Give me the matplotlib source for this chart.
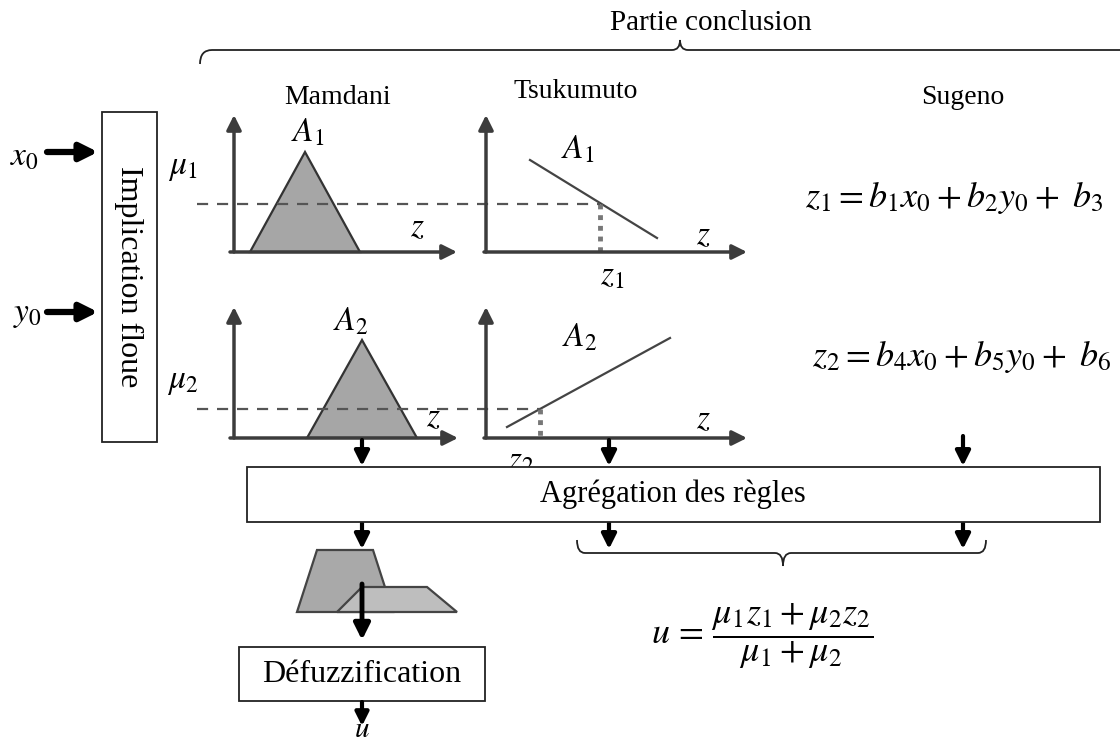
import matplotlib.pyplot as plt
from matplotlib.patches import Polygon, Rectangle, PathPatch
from matplotlib.path import Path

plt.rcParams['font.family'] = ['Liberation Serif', 'DejaVu Serif']
plt.rcParams['mathtext.fontset'] = 'stix'

# formes (coordonnees en pixels de l'image)
tri_mamdani_1 = [(250, 252), (305, 152), (360, 252)]
tri_mamdani_2 = [(307, 438), (362, 340), (417, 438)]
ligne_tsuku_1 = [(530, 657), (160, 238)]
ligne_tsuku_2 = [(507, 670), (427, 338)]
trap_agreg_1 = [(297, 612), (317, 550), (373, 550), (393, 612)]
trap_agreg_2 = [(337, 612), (362, 587), (427, 587), (457, 612)]

titres = ["Mamdani", "Tsukumuto", "Sugeno"]
eq_sugeno = [r"$z_1 = b_1x_0 + b_2y_0 +\ b_3$", r"$z_2 = b_4x_0 + b_5y_0 +\ b_6$"]
formule_u = r"$u\,=\,\dfrac{\mu_1 z_1 + \mu_2 z_2}{\mu_1 + \mu_2}$"

fig = plt.figure(figsize=(11.2, 7.43), dpi=100)
ax = fig.add_axes([0, 0, 1, 1])
ax.set_xlim(0, 1120)
ax.set_ylim(743, 0)
ax.axis("off")

gris = "#3c3c3c"
fs_math = 24


def fleche(x0, y0, x1, y1, lw=2.5, c=gris, ms=20):
    ax.annotate("", xy=(x1, y1), xytext=(x0, y0),
                arrowprops=dict(arrowstyle="-|>", lw=lw, color=c,
                                mutation_scale=ms, shrinkA=0, shrinkB=0))


# accolade du haut
verts = [(200, 64), (200, 50), (212, 50), (672, 50), (680, 50), (680, 40),
         (680, 50), (688, 50), (1120, 50)]
codes = [Path.MOVETO, Path.CURVE3, Path.CURVE3, Path.LINETO, Path.CURVE3, Path.CURVE3,
         Path.CURVE3, Path.CURVE3, Path.LINETO]
ax.add_patch(PathPatch(Path(verts, codes), fc="none", ec="#222", lw=1.3))
ax.text(711, 23, "Partie conclusion", fontsize=21, ha="center", va="center")

ax.text(338, 98, titres[0], fontsize=20, ha="center", va="center")
ax.text(576, 92, titres[1], fontsize=20, ha="center", va="center")
ax.text(963, 98, titres[2], fontsize=20, ha="center", va="center")

# entrees
ax.text(24, 157, r"$x_0$", fontsize=fs_math, ha="center", va="center")
ax.text(27, 315, r"$y_0$", fontsize=fs_math, ha="center", va="center")
fleche(47, 152, 98, 152, lw=4.5, c="black", ms=26)
fleche(47, 312, 98, 312, lw=4.5, c="black", ms=26)
ax.add_patch(Rectangle((102, 112), 55, 330, fc="white", ec="#222", lw=1.3))
ax.text(129, 277, "Implication floue", fontsize=23, rotation=270,
        ha="center", va="center")

# Mamdani
for tri, yb, yh, xf in [(tri_mamdani_1, 252, 115, 457), (tri_mamdani_2, 438, 307, 458)]:
    ax.add_patch(Polygon(tri, closed=True, fc="#a6a6a6", ec="#333", lw=1.6, zorder=2))
    fleche(234, yb, 234, yh, ms=22)
    fleche(230, yb, xf, yb, ms=22)

ax.text(308, 133, r"$A_1$", fontsize=fs_math, ha="center", va="center")
ax.text(351, 322, r"$A_2$", fontsize=fs_math, ha="center", va="center")
ax.text(183, 168, r"$\mu_1$", fontsize=fs_math, ha="center", va="center")
ax.text(183, 382, r"$\mu_2$", fontsize=fs_math, ha="center", va="center")
ax.text(417, 228, r"$z$", fontsize=fs_math, ha="center", va="center")
ax.text(433, 418, r"$z$", fontsize=fs_math, ha="center", va="center")

# niveaux d'activation
ax.plot([197, 600], [204, 204], ls=(0, (5, 4)), color="#555", lw=1.6, zorder=3)
ax.plot([197, 540], [409, 409], ls=(0, (5, 4)), color="#555", lw=1.6, zorder=3)

# Tsukumoto
for yb, yh in [(252, 115), (438, 307)]:
    fleche(486, yb, 486, yh, ms=22)
    fleche(484, yb, 747, yb, ms=22)
ax.plot(ligne_tsuku_1[0], ligne_tsuku_1[1], color="#444", lw=1.6)
ax.plot(ligne_tsuku_2[0], ligne_tsuku_2[1], color="#444", lw=1.6)
ax.plot([600, 600], [204, 252], ls=(0, (1, 1.2)), color="#777", lw=3.5)
ax.plot([540, 540], [409, 438], ls=(0, (1, 1.2)), color="#777", lw=3.5)
ax.text(578, 150, r"$A_1$", fontsize=fs_math, ha="center", va="center")
ax.text(580, 338, r"$A_2$", fontsize=fs_math, ha="center", va="center")
ax.text(703, 236, r"$z$", fontsize=fs_math, ha="center", va="center")
ax.text(703, 420, r"$z$", fontsize=fs_math, ha="center", va="center")
ax.text(612, 276, r"$z_1$", fontsize=fs_math, ha="center", va="center")
ax.text(521, 461, r"$z_2$", fontsize=fs_math, ha="center", va="center", zorder=1)

# Sugeno
ax.text(954, 198, eq_sugeno[0], fontsize=26, ha="center", va="center")
ax.text(962, 357, eq_sugeno[1], fontsize=26, ha="center", va="center")

# agregation
for x, y0 in [(362, 440), (609, 440), (963, 436)]:
    fleche(x, y0, x, 466, lw=3, c="black", ms=22)
ax.add_patch(Rectangle((247, 467), 853, 55, fc="white", ec="#222", lw=1.3, zorder=5))
ax.text(673, 494, "Agrégation des règles", fontsize=22, ha="center", va="center", zorder=6)
for x in [362, 609, 963]:
    fleche(x, 523, x, 549, lw=3, c="black", ms=22)

# accolade du bas
verts = [(577, 540), (577, 553), (585, 553), (775, 553), (783, 553), (783, 566),
         (783, 553), (791, 553), (978, 553), (986, 553), (986, 540)]
codes = [Path.MOVETO, Path.CURVE3, Path.CURVE3, Path.LINETO, Path.CURVE3, Path.CURVE3,
         Path.CURVE3, Path.CURVE3, Path.LINETO, Path.CURVE3, Path.CURVE3]
ax.add_patch(PathPatch(Path(verts, codes), fc="none", ec="#222", lw=1.3))
ax.text(762, 636, formule_u, fontsize=26, ha="center", va="center")

# sortie Mamdani
ax.add_patch(Polygon(trap_agreg_1, closed=True, fc="#a9a9a9", ec="#444", lw=1.6))
ax.add_patch(Polygon(trap_agreg_2, closed=True, fc="#bebebe", ec="#444", lw=1.6))
fleche(362, 584, 362, 640, lw=3.5, c="black", ms=24)
ax.add_patch(Rectangle((239, 647), 246, 54, fc="white", ec="#222", lw=1.3))
ax.text(362, 674, "Défuzzification", fontsize=23, ha="center", va="center")
fleche(362, 702, 362, 726, lw=3, c="black", ms=20)
ax.text(362, 743, r"$u$", fontsize=21, ha="center", va="bottom")

fig.savefig("out.png", dpi=100)
